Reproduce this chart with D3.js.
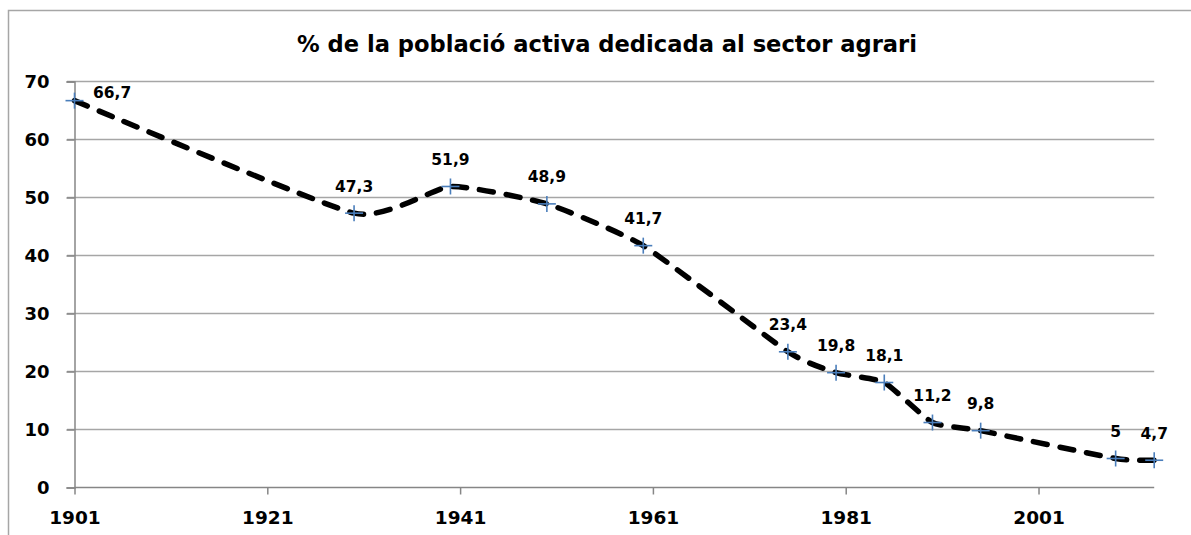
<!DOCTYPE html>
<html>
<head>
<meta charset="utf-8">
<script src="https://cdn.jsdelivr.net/npm/d3@7"></script>
<style>
  html, body { margin: 0; padding: 0; background: #fff; }
  svg { display: block; }
  text { font-family: "DejaVu Sans", sans-serif; font-weight: bold; fill: #000; }
</style>
</head>
<body>
<svg id="chart" width="1191" height="535"></svg>
<script>
const title = "% de la població activa dedicada al sector agrari";
const years = [1901, 1930, 1940, 1950, 1960, 1975, 1980, 1985, 1990, 1995, 2009, 2013];
const values = [66.7, 47.3, 51.9, 48.9, 41.7, 23.4, 19.8, 18.1, 11.2, 9.8, 5, 4.7];
const valueLabels = ["66,7", "47,3", "51,9", "48,9", "41,7", "23,4", "19,8", "18,1", "11,2", "9,8", "5", "4,7"];
const xTicks = [1901, 1921, 1941, 1961, 1981, 2001];
const yTicks = [0, 10, 20, 30, 40, 50, 60, 70];

const svg = d3.select("#chart");

// chart border (extends past right/bottom edge)
svg.append("rect")
  .attr("x", 8.5).attr("y", 10.5)
  .attr("width", 1200).attr("height", 600)
  .attr("fill", "none").attr("stroke", "#a6a6a6").attr("stroke-width", 1.5);

const x = d3.scaleLinear().domain([1901, 2013]).range([74.5, 1154.2]);
const y = d3.scaleLinear().domain([0, 70]).range([487.5, 81.5]);

// gridlines
svg.append("g").selectAll("line")
  .data(yTicks.filter(d => d > 0))
  .join("line")
  .attr("x1", 67).attr("x2", x.range()[1])
  .attr("y1", d => y(d)).attr("y2", d => y(d))
  .attr("stroke", "#a6a6a6").attr("stroke-width", 1.5);

// y axis
const yAxis = d3.axisLeft(y).tickValues(yTicks).tickSize(8).tickPadding(17).tickFormat(d3.format("d"));
const gy = svg.append("g").attr("transform", `translate(${x.range()[0]},0)`).call(yAxis);
gy.select(".domain").attr("stroke", "#868686").attr("stroke-width", 1.5);
gy.selectAll(".tick line").attr("stroke", "#868686").attr("stroke-width", 1.5);
gy.selectAll(".tick text").attr("font-size", 18).attr("font-family", "DejaVu Sans").attr("font-weight", "bold").attr("fill", "#000");

// x axis
const xAxis = d3.axisBottom(x).tickValues(xTicks).tickSize(7).tickPadding(16).tickFormat(d3.format("d"));
const gx = svg.append("g").attr("transform", `translate(0,${y.range()[0]})`).call(xAxis);
gx.select(".domain").attr("stroke", "#868686").attr("stroke-width", 1.5)
  .attr("d", `M${x.range()[0]},0H${x.range()[1]}`);
gx.selectAll(".tick line").attr("stroke", "#868686").attr("stroke-width", 1.5);
gx.selectAll(".tick text").attr("font-size", 18.5).attr("font-family", "DejaVu Sans").attr("font-weight", "bold").attr("fill", "#000");

const data = years.map((yr, i) => ({ yr, v: values[i], lab: valueLabels[i] }));

// line
const line = d3.line().x(d => x(d.yr)).y(d => y(d.v)).curve(d3.curveCardinal.tension(0.5));
svg.append("path")
  .datum(data)
  .attr("d", line)
  .attr("fill", "none")
  .attr("stroke", "#000")
  .attr("stroke-width", 5.5)
  .attr("stroke-dasharray", "14,13")
  .attr("stroke-linecap", "round");

// plus markers
const m = svg.append("g").attr("stroke", "#4a7ebb").attr("stroke-width", 1.6);
m.selectAll("line.h").data(data).join("line").attr("class", "h")
  .attr("x1", d => x(d.yr) - 9).attr("x2", d => x(d.yr) + 9)
  .attr("y1", d => y(d.v)).attr("y2", d => y(d.v));
m.selectAll("line.v").data(data).join("line").attr("class", "v")
  .attr("x1", d => x(d.yr)).attr("x2", d => x(d.yr))
  .attr("y1", d => y(d.v) - 8).attr("y2", d => y(d.v) + 8);

// data labels
svg.append("g").selectAll("text").data(data).join("text")
  .attr("x", (d, i) => i === 0 ? x(d.yr) + 18.5 : x(d.yr))
  .attr("y", (d, i) => i === 0 ? y(d.v) - 3 : y(d.v) - 21.5)
  .attr("text-anchor", (d, i) => i === 0 ? "start" : "middle")
  .attr("font-size", 15.5)
  .text(d => d.lab);

// title
const t = svg.append("text")
  .attr("x", 607).attr("y", 52)
  .attr("text-anchor", "middle")
  .attr("font-size", 20)
  .text(title);
const tw = t.node().getComputedTextLength();
t.attr("font-size", 20 * 620 / tw);
</script>
</body>
</html>
